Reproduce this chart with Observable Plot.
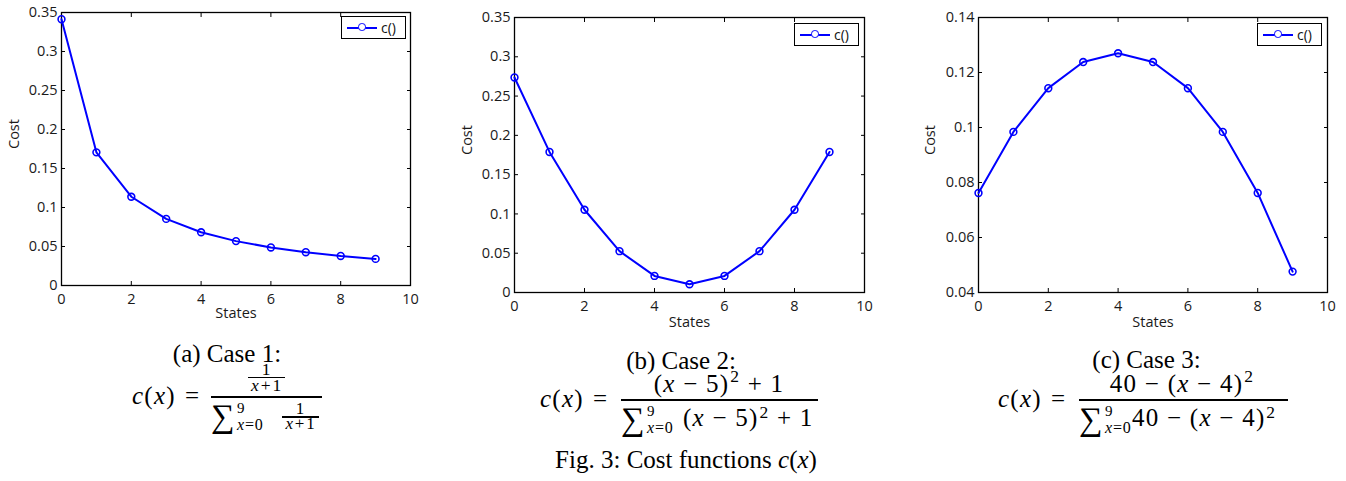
<!DOCTYPE html>
<html>
<head>
<meta charset="utf-8">
<script src="https://cdn.jsdelivr.net/npm/d3@7"></script>
<script src="https://cdn.jsdelivr.net/npm/@observablehq/plot@0.6"></script>
<style>
  html, body { margin: 0; padding: 0; background: #fff; }
  #root { position: relative; width: 1346px; height: 481px; overflow: hidden; background: #fff; }
  .panel { position: absolute; top: 0; }
  .t { position: absolute; line-height: 0.7; white-space: nowrap; font-family: "Liberation Serif", "Times New Roman", serif; color: #000; }
  .t.m { letter-spacing: 0.05em; }
  .t i { font-style: italic; }
  .t .sup { position: relative; top: -0.56em; font-size: 0.7em; margin-left: 0.05em; }
  .t .supc { position: relative; top: -0.45em; font-size: 0.7em; margin-left: 0.05em; }
  .t .op { margin: 0 0.06em; }
  .bar { position: absolute; background: #000; }
  .legend { position: absolute; box-sizing: border-box; width: 65px; height: 23px; border: 1.3px solid #000; background: #fff;
            font-family: "Open Sans", sans-serif; font-size: 14px; color: #111; }
  .legend .sw { position: absolute; left: 5px; top: 9.5px; width: 30px; height: 2px; background: #0000ff; }
  .legend .mk { position: absolute; left: 16px; top: 6.3px; width: 5.5px; height: 5.5px; border: 1.6px solid #0000ff; border-radius: 50%; background: #fff; }
  .legend .lb { position: absolute; left: 39px; top: 1px; line-height: 19px; }
</style>
</head>
<body>
<div id="root"></div>
<script>
// ---------------- data ----------------
const states = [0, 1, 2, 3, 4, 5, 6, 7, 8, 9];
const costCase1 = [0.3414, 0.1707, 0.1138, 0.0854, 0.0683, 0.0569, 0.0488, 0.0427, 0.0379, 0.0341];
const costCase2 = [0.2737, 0.1789, 0.1053, 0.0526, 0.0211, 0.0105, 0.0211, 0.0526, 0.1053, 0.1789];
const costCase3 = [0.0762, 0.0984, 0.1143, 0.1238, 0.1270, 0.1238, 0.1143, 0.0984, 0.0762, 0.0476];
const xTicks = [0, 2, 4, 6, 8, 10];
const yTicks12 = [0, 0.05, 0.1, 0.15, 0.2, 0.25, 0.3, 0.35];
const yTicks3 = [0.04, 0.06, 0.08, 0.1, 0.12, 0.14];
const xDomain = [0, 10];
const yDomain12 = [0, 0.35];
const yDomain3 = [0.04, 0.14];
const seriesName = "c()";
const xLabel = "States";
const yLabel = "Cost";

const root = document.getElementById("root");

function makePanel({values, yDomain, yTicks, left, width, height, mL, mT, mR, mB, xLabDy, yLabDx}) {
  const rows = states.map((s, i) => ({state: s, cost: values[i]}));
  const fmt = d => String(d);
  const chart = Plot.plot({
    width, height,
    marginLeft: mL, marginTop: mT, marginRight: mR, marginBottom: mB,
    x: {domain: xDomain},
    y: {domain: yDomain},
    style: {fontFamily: "'Open Sans', sans-serif", fontSize: "14.5px", color: "#1a1a1a", background: "transparent", overflow: "visible"},
    marks: [
      Plot.axisX(xTicks, {anchor: "bottom", tickSize: -4, tickPadding: 12, tickFormat: fmt, label: null, stroke: "#000"}),
      Plot.axisX(xTicks, {anchor: "top", tickSize: -4, tickFormat: () => "", label: null, stroke: "#000"}),
      Plot.axisY(yTicks, {anchor: "left", tickSize: -4, tickPadding: 8, tickFormat: fmt, label: null, stroke: "#000"}),
      Plot.axisY(yTicks, {anchor: "right", tickSize: -4, tickFormat: () => "", label: null, stroke: "#000"}),
      Plot.text([xLabel], {text: d => d, frameAnchor: "bottom", dy: xLabDy, lineAnchor: "middle", fill: "#1a1a1a"}),
      Plot.text([yLabel], {text: d => d, frameAnchor: "left", dx: -yLabDx, rotate: -90, lineAnchor: "middle", fill: "#1a1a1a"}),
      Plot.frame({stroke: "#000", strokeWidth: 1.3}),
      Plot.line(rows, {x: "state", y: "cost", stroke: "#0000ff", strokeWidth: 2}),
      Plot.dot(rows, {x: "state", y: "cost", r: 3.4, stroke: "#0000ff", strokeWidth: 1.6, fill: "none"})
    ]
  });
  const wrap = document.createElement("div");
  wrap.className = "panel";
  wrap.style.left = left + "px";
  wrap.appendChild(chart);
  root.appendChild(wrap);
}

makePanel({values: costCase1, yDomain: yDomain12, yTicks: yTicks12, left: 0, width: 430, height: 330, mL: 61, mT: 12, mR: 20, mB: 45, xLabDy: 28, yLabDx: 47});
makePanel({values: costCase2, yDomain: yDomain12, yTicks: yTicks12, left: 450, width: 434, height: 337, mL: 64, mT: 17, mR: 20, mB: 45, xLabDy: 30, yLabDx: 47});
makePanel({values: costCase3, yDomain: yDomain3, yTicks: yTicks3, left: 910, width: 433, height: 337, mL: 68, mT: 17, mR: 16, mB: 45, xLabDy: 30, yLabDx: 48});

// ---------------- legends ----------------
function legend(left, top) {
  const d = document.createElement("div");
  d.className = "legend";
  d.style.left = left + "px";
  d.style.top = top + "px";
  d.innerHTML = '<span class="sw"></span><span class="mk"></span><span class="lb"></span>';
  d.querySelector(".lb").textContent = seriesName;
  root.appendChild(d);
}
legend(341, 16);
legend(794, 23);
legend(1257, 23);

// ---------------- captions & formulas ----------------
function T(html, x, base, size, anchor, math) {
  const d = document.createElement("div");
  d.className = math ? "t m" : "t";
  d.innerHTML = html;
  d.style.fontSize = size + "px";
  d.style.top = (base - 0.6875 * size) + "px";
  d.style.left = x + "px";
  if (anchor === "middle") d.style.transform = "translateX(-50%)";
  root.appendChild(d);
}
function bar(x1, x2, y, w) {
  w = w || 1.5;
  const d = document.createElement("div");
  d.className = "bar";
  d.style.left = x1 + "px";
  d.style.width = (x2 - x1) + "px";
  d.style.top = (y - w / 2) + "px";
  d.style.height = w + "px";
  root.appendChild(d);
}
const lhs = '<i>c</i>(<i>x</i>)&nbsp;<span class="op">=</span>';
const xp1 = '<i>x</i><span class="op">+</span>1';

// (a)
T("(a) Case 1:", 227, 362, 25, "middle");
T(lhs, 132, 404, 25, null, true);
bar(211, 322, 397);
T("1", 266.5, 375, 17.5, "middle", true);
bar(248, 285, 377.5, 1.3);
T(xp1, 266.5, 391.5, 17.5, "middle", true);
T("&sum;", 211, 428, 33);
T("9", 237, 413, 15, null, true);
T('<i>x</i>=0', 237, 430, 16, null, true);
T("1", 300.5, 414.5, 17, "middle", true);
bar(282, 319, 417, 1.3);
T(xp1, 300.5, 430, 17, "middle", true);

// (b)
T("(b) Case 2:", 681, 369.5, 25, "middle");
T(lhs, 540, 407, 25, null, true);
bar(621, 818, 400);
T('(<i>x</i> &minus; 5)<span class="sup">2</span> + 1', 719, 392, 25, "middle", true);
T("&sum;", 621, 431, 33);
T("9", 647, 416, 15, null, true);
T('<i>x</i>=0', 647, 433, 16, null, true);
T('(<i>x</i> &minus; 5)<span class="supc">2</span> + 1', 683, 426, 25, null, true);

// (c)
T("(c) Case 3:", 1146.5, 368.5, 25, "middle");
T(lhs, 998, 407, 25, null, true);
bar(1079, 1288, 400);
T('40 &minus; (<i>x</i> &minus; 4)<span class="sup">2</span>', 1182, 392, 25, "middle", true);
T("&sum;", 1079, 431, 33);
T("9", 1105, 416, 15, null, true);
T('<i>x</i>=0', 1105, 433, 16, null, true);
T('40 &minus; (<i>x</i> &minus; 4)<span class="supc">2</span>', 1132, 426, 25, null, true);

// figure caption
T('Fig. 3: Cost functions <i>c</i>(<i>x</i>)', 686, 468, 25, "middle");
</script>
</body>
</html>
